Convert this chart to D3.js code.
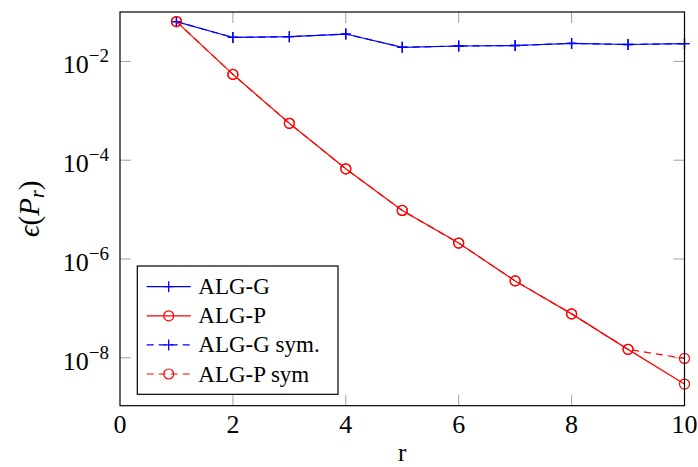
<!DOCTYPE html>
<html>
<head>
<meta charset="utf-8">
<script src="https://cdn.jsdelivr.net/npm/d3@7"></script>
<style>
  body { margin: 0; background: #fff; }
</style>
</head>
<body>
<svg id="chart" width="698" height="467"></svg>
<script>
// ── Data ─────────────────────────────────────────────────────────────────────
const rValues   = [1, 2, 3, 4, 5, 6, 7, 8, 9, 10];
const algG      = [0.064, 0.0305, 0.0316, 0.0358, 0.0193, 0.0205, 0.021, 0.0231, 0.022, 0.0228];
const algP      = [0.064, 5.46e-3, 5.58e-4, 6.7e-5, 9.6e-6, 2.1e-6, 3.6e-7, 7.74e-8, 1.48e-8, 2.94e-9];
const algGSym   = [0.064, 0.0305, 0.0316, 0.0358, 0.0193, 0.0205, 0.021, 0.0231, 0.022, 0.0228];
const algPSym   = [0.064, 5.46e-3, 5.58e-4, 6.7e-5, 9.6e-6, 2.1e-6, 3.6e-7, 7.74e-8, 1.48e-8, 9.7e-9];
const xTicks    = [0, 2, 4, 6, 8, 10];
const yTickExps = [-2, -4, -6, -8];
const seriesNames = ['ALG-G', 'ALG-P', 'ALG-G sym.', 'ALG-P sym'];

const series = [
  { name: seriesNames[0], values: algG,    color: '#0000ff', marker: 'plus',   dash: null },
  { name: seriesNames[1], values: algP,    color: '#ff0000', marker: 'circle', dash: null },
  { name: seriesNames[2], values: algGSym, color: '#0000ff', marker: 'plus',   dash: '7,5' },
  { name: seriesNames[3], values: algPSym, color: '#ff0000', marker: 'circle', dash: '7,5' }
];

// ── Layout ───────────────────────────────────────────────────────────────────
const mLeft = 120, mRight = 684.5, mTop = 12, mBottom = 405.7;
const FONT = 'Liberation Serif';
const svg = d3.select('#chart').attr('font-family', FONT);

const x = d3.scaleLinear().domain([0, 10]).range([mLeft, mRight]);
const y = d3.scaleLog().domain([Math.pow(10, -8.97), Math.pow(10, -1.0)]).range([mBottom, mTop]);

const tickLen = 11, tickColor = '#a0a0a0';

// ── Ticks (inward on all four sides) ─────────────────────────────────────────
const ticksG = svg.append('g');
xTicks.slice(1, -1).forEach(t => {
  ticksG.append('line').attr('x1', x(t)).attr('x2', x(t))
    .attr('y1', mBottom).attr('y2', mBottom - tickLen)
    .attr('stroke', tickColor).attr('stroke-width', 1);
  ticksG.append('line').attr('x1', x(t)).attr('x2', x(t))
    .attr('y1', mTop).attr('y2', mTop + tickLen)
    .attr('stroke', tickColor).attr('stroke-width', 1);
});
yTickExps.forEach(e => {
  const v = Math.pow(10, e);
  ticksG.append('line').attr('x1', mLeft).attr('x2', mLeft + tickLen)
    .attr('y1', y(v)).attr('y2', y(v))
    .attr('stroke', tickColor).attr('stroke-width', 1);
  ticksG.append('line').attr('x1', mRight).attr('x2', mRight - tickLen)
    .attr('y1', y(v)).attr('y2', y(v))
    .attr('stroke', tickColor).attr('stroke-width', 1);
});

// ── Tick labels ──────────────────────────────────────────────────────────────
svg.append('g').selectAll('text').data(xTicks).enter().append('text')
  .attr('x', d => x(d)).attr('y', mBottom + 27)
  .attr('text-anchor', 'middle')
  .attr('font-family', FONT)
  .attr('font-size', 26)
  .text(d => d);

const yLab = svg.append('g').selectAll('text').data(yTickExps).enter().append('text')
  .attr('x', 109).attr('y', d => y(Math.pow(10, d)) + 12)
  .attr('text-anchor', 'end')
  .attr('font-family', FONT)
  .attr('font-size', 26);
yLab.append('tspan').text('10');
yLab.append('tspan').attr('dy', -11).attr('font-size', 19).text(d => '\u2212' + Math.abs(d));

// ── Series ───────────────────────────────────────────────────────────────────
const line = d3.line().x((d, i) => x(rValues[i])).y(d => y(d));

function drawMarker(g, type, cx, cy, color) {
  if (type === 'plus') {
    g.append('path')
      .attr('d', `M${cx - 5},${cy}H${cx + 5}M${cx},${cy - 5.5}V${cy + 5.5}`)
      .attr('stroke', color).attr('stroke-width', 1.3).attr('fill', 'none');
  } else {
    g.append('circle').attr('cx', cx).attr('cy', cy).attr('r', 5)
      .attr('stroke', color).attr('stroke-width', 1.2).attr('fill', 'none');
  }
}

const plotG = svg.append('g');
series.forEach(s => {
  plotG.append('path')
    .attr('d', line(s.values))
    .attr('fill', 'none')
    .attr('stroke', s.color)
    .attr('stroke-width', 1.2)
    .attr('stroke-dasharray', s.dash);
  s.values.forEach((v, i) => drawMarker(plotG, s.marker, x(rValues[i]), y(v), s.color));
});

// ── Frame ────────────────────────────────────────────────────────────────────
svg.append('rect')
  .attr('x', mLeft).attr('y', mTop)
  .attr('width', mRight - mLeft).attr('height', mBottom - mTop)
  .attr('fill', 'none').attr('stroke', '#000').attr('stroke-width', 1.2);

// ── Axis labels ──────────────────────────────────────────────────────────────
svg.append('text')
  .attr('x', (mLeft + mRight) / 2).attr('y', 461)
  .attr('text-anchor', 'middle')
  .attr('font-family', FONT).attr('font-size', 25)
  .text('r');

const yTitle = svg.append('text')
  .attr('transform', `translate(39,${(mTop + mBottom) / 2}) rotate(-90)`)
  .attr('text-anchor', 'middle')
  .attr('font-family', FONT).attr('font-size', 29);
yTitle.append('tspan').attr('font-style', 'italic').text('\u03f5');
yTitle.append('tspan').text('(');
yTitle.append('tspan').attr('font-style', 'italic').text('P');
yTitle.append('tspan').attr('font-style', 'italic').attr('font-size', 20).attr('dy', 5).text('r');
yTitle.append('tspan').attr('dy', -5).text(')');

// ── Legend ───────────────────────────────────────────────────────────────────
const legend = svg.append('g');
legend.append('rect')
  .attr('x', 137.3).attr('y', 266)
  .attr('width', 200.7).attr('height', 128.3)
  .attr('fill', '#fff').attr('stroke', '#000').attr('stroke-width', 1.2);

series.forEach((s, i) => {
  const cy = 286.7 + i * 29.1;
  legend.append('line')
    .attr('x1', 146.7).attr('x2', 190.7).attr('y1', cy).attr('y2', cy)
    .attr('stroke', s.color).attr('stroke-width', 1.2)
    .attr('stroke-dasharray', s.dash);
  drawMarker(legend, s.marker, 168.7, cy, s.color);
  legend.append('text')
    .attr('x', 198.3).attr('y', cy + 7.5)
    .attr('font-family', FONT)
    .attr('font-size', 23)
    .text(s.name);
});
</script>
</body>
</html>
